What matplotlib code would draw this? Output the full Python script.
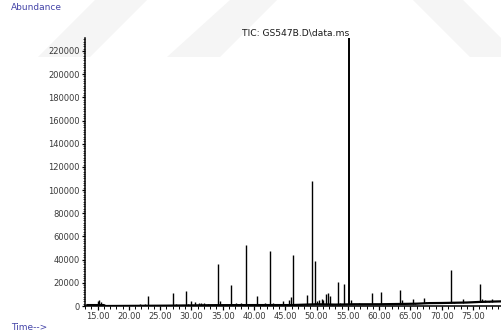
import numpy as np
import matplotlib
matplotlib.use("Agg")
import matplotlib.pyplot as plt
from matplotlib.patches import Polygon
from matplotlib.ticker import MultipleLocator, FuncFormatter

plt.rcParams['font.family'] = ['DejaVu Sans']

# Total ion chromatogram: retention time (min) and abundance of each peak
peak_times = [15.0, 15.3, 15.5, 20.7, 21.8, 22.6, 23.1, 26.7, 27.06, 27.6,
              28.6, 29.1, 29.5, 30.0, 30.5, 31.2, 31.6, 32.0, 32.7, 33.8,
              34.2, 34.5, 35.3, 35.8, 36.3, 37.2, 38.0, 38.7, 39.2, 40.0,
              40.5, 41.2, 41.8, 42.2, 42.56, 43.0, 43.5, 44.3, 44.6, 45.1,
              45.6, 45.9, 46.3, 46.6, 47.5, 48.5, 48.9, 49.27, 49.7, 50.1,
              50.4, 50.8, 51.1, 51.5, 51.9, 52.1, 52.5, 53.37, 53.8, 54.4,
              55.2, 55.5, 56.0, 56.8, 58.8, 59.2, 60.3, 63.3, 63.6, 65.4,
              65.7, 67.2, 67.5, 68.3, 70.2, 71.0, 71.5, 72.0, 73.4, 74.0,
              76.1, 76.4, 76.9, 77.5, 78.1, 79.0]
peak_heights = [4000, 5200, 3500, 1000, 1500, 1500, 8400, 1000, 11200, 1500,
                1200, 13000, 1500, 4500, 3500, 2500, 2500, 2500, 1500, 1500,
                36600, 4000, 1000, 800, 18200, 2500, 3000, 52200, 1500, 1000,
                8900, 1500, 3000, 2000, 47300, 2500, 2000, 1500, 4500, 1500,
                5000, 8000, 44100, 2000, 1500, 9500, 2000, 108100, 38900, 4000,
                5000, 6000, 5000, 10000, 11500, 9000, 2000, 20800, 2500, 19000,
                231200, 5000, 2000, 2500, 11200, 2000, 12100, 13800, 5000, 6000,
                3000, 7200, 3500, 3000, 2500, 3500, 31100, 3500, 6300, 3000,
                19000, 6000, 5000, 4000, 6000, 4500]

# Slowly drifting baseline of the trace
base_times = [13.2, 16.0, 16.3, 26.0, 33.0, 40.0, 46.0, 50.0, 53.0, 56.0,
              60.0, 64.0, 66.0, 68.0, 70.0, 74.0, 76.0, 79.5]
base_levels = [800, 800, 0, 300, 700, 800, 800, 1500, 1200, 1500,
               1500, 1800, 2000, 2500, 2600, 3000, 3500, 4000]

x_major = [15, 20, 25, 30, 35, 40, 45, 50, 55, 60, 65, 70, 75]
y_major = list(range(0, 220001, 20000))

W, H = 501, 335
fig = plt.figure(figsize=(W / 100, H / 100), dpi=100)
fig.patch.set_facecolor('white')

# Faint diagonal watermark bands behind the plot
wm_color = '#f5f5f5'
bands = [
    [(95, 0), (147, 0), (90, 57), (38, 57)],
    [(230, 0), (277, 0), (220, 57), (167, 57)],
    [(413, 0), (463, 0), (520, 57), (470, 57)],
]
for band in bands:
    pts = [(x / W, 1 - y / H) for x, y in band]
    fig.add_artist(Polygon(pts, closed=True, transform=fig.transFigure,
                           facecolor=wm_color, edgecolor='none', zorder=0))

left_px, right_px, top_px, bottom_px = 85, 501, 38, 306
ax = fig.add_axes([left_px / W, 1 - bottom_px / H,
                   (right_px - left_px) / W, (bottom_px - top_px) / H])
ax.set_facecolor('none')

ax.set_xlim(13.0, 79.46)
ax.set_ylim(0, 231200)

# Peaks as sticks, baseline drawn over them
base_at_peak = np.interp(peak_times, base_times, base_levels)
big = int(np.argmax(peak_heights))
thin_t = [t for i, t in enumerate(peak_times) if i != big]
thin_b = [b for i, b in enumerate(base_at_peak) if i != big]
thin_h = [h for i, h in enumerate(peak_heights) if i != big]
ax.vlines(thin_t, thin_b, thin_h, color='black', linewidth=1.0, zorder=3)
ax.vlines([peak_times[big]], [base_at_peak[big]], [peak_heights[big]],
          color='black', linewidth=1.4, zorder=3)
ax.plot(base_times, base_levels, color='black', linewidth=1.6,
        solid_capstyle='butt', zorder=3)

for side in ('top', 'right'):
    ax.spines[side].set_visible(False)
for side in ('left', 'bottom'):
    ax.spines[side].set_linewidth(1.1)
    ax.spines[side].set_color('black')

ax.xaxis.set_minor_locator(MultipleLocator(1))
ax.set_xticks(x_major)
ax.xaxis.set_major_formatter(FuncFormatter(lambda v, p: f"{v:.2f}"))
ax.set_yticks(y_major)
ax.yaxis.set_minor_locator(MultipleLocator(2000))
ax.yaxis.set_major_formatter(FuncFormatter(lambda v, p: f"{int(v)}"))

ax.tick_params(axis='both', which='major', direction='out', length=2.5,
               width=0.9, color='black', labelsize=6, labelcolor='#3a3a3a',
               pad=1.5)
ax.tick_params(axis='both', which='minor', direction='out', length=1.5,
               width=0.5, color='black')
ax.tick_params(axis='x', which='major', length=3)
ax.tick_params(axis='x', which='minor', length=2.5, width=0.7)

fig.text(295.5 / W, 1 - 33 / H, 'TIC: GS547B.D\\data.ms', ha='center',
         va='center', fontsize=6.6, color='#1a1a1a')
fig.text(11 / W, 1 - 8 / H, 'Abundance', ha='left', va='center',
         fontsize=6.5, color='#4444a8')
fig.text(11 / W, 1 - 327 / H, 'Time-->', ha='left', va='center',
         fontsize=6.5, color='#4444a8')

fig.savefig('out.png', dpi=100, facecolor='white')
